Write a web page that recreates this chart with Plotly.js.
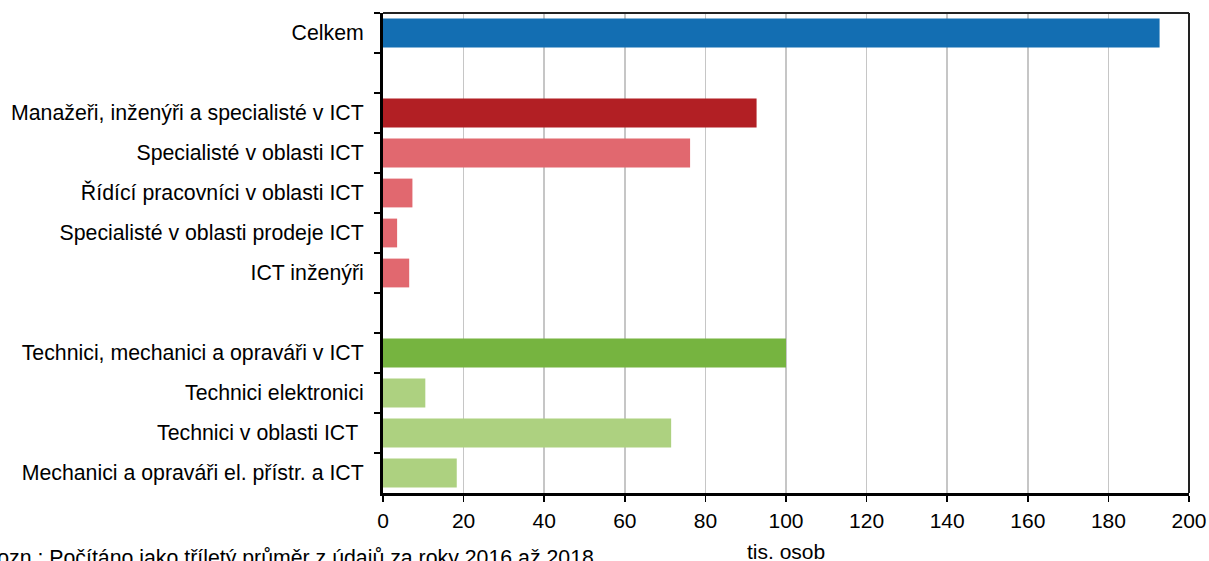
<!DOCTYPE html>
<html>
<head>
<meta charset="utf-8">
<script src="https://cdn.plot.ly/plotly-3.0.1.min.js"></script>
<style>
  html, body { margin: 0; padding: 0; background: #fff; }
  #chart { width: 1209px; height: 561px; }
</style>
</head>
<body>
<div id="chart"></div>
<script>
// Occupation groups (top to bottom); blank entries are spacer rows
const categories = [
  "Celkem",
  " ",
  "Manažeři, inženýři a specialisté v ICT",
  "Specialisté v oblasti ICT",
  "Řídící pracovníci v oblasti ICT",
  "Specialisté v oblasti prodeje ICT",
  "ICT inženýři",
  "  ",
  "Technici, mechanici a opraváři v ICT",
  "Technici elektronici",
  "Technici v oblasti ICT ",
  "Mechanici a opraváři el. přístr. a ICT"
];

// Employed persons, thousands
const values = [192.7, null, 92.7, 76.2, 7.3, 3.5, 6.5, null, 100.0, 10.5, 71.5, 18.3];

// Group of each row: total, ICT professionals, ICT technicians
const groups = ["total", "gap", "pro", "pro-sub", "pro-sub", "pro-sub", "pro-sub", "gap", "tech", "tech-sub", "tech-sub", "tech-sub"];

const xTickValues = [0, 20, 40, 60, 80, 100, 120, 140, 160, 180, 200];

const xTitle = "tis. osob";
const noteText = "Pozn.: Počítáno jako tříletý průměr z údajů za roky 2016 až 2018";

const palette = {
  "total": "#136eb2",
  "pro": "#b21f24",
  "pro-sub": "#e1686f",
  "tech": "#76b440",
  "tech-sub": "#add180",
  "gap": "rgba(0,0,0,0)"
};

const FONT = "Liberation Sans, Arial, sans-serif";

const trace = {
  type: "bar",
  orientation: "h",
  y: categories,
  x: values,
  marker: { color: groups.map(g => palette[g]), line: { width: 0 } },
  hoverinfo: "x+y"
};

const layout = {
  width: 1209,
  height: 561,
  margin: { l: 383, r: 20, t: 13, b: 68 },
  paper_bgcolor: "#ffffff",
  plot_bgcolor: "#ffffff",
  showlegend: false,
  bargap: 0.28,
  font: { family: FONT, size: 21, color: "#000" },
  xaxis: {
    range: [0, 200],
    tickmode: "array",
    tickvals: xTickValues,
    ticktext: xTickValues.map(String),
    showgrid: true,
    gridcolor: "#c6c6c6",
    gridwidth: 1.5,
    zeroline: false,
    showline: true,
    linecolor: "#000",
    linewidth: 3,
    ticks: "outside",
    ticklen: 6,
    tickwidth: 1.5,
    tickcolor: "#000",
    tickfont: { family: FONT, size: 21, color: "#000" },
    ticklabelstandoff: 1,
    fixedrange: true
  },
  yaxis: {
    type: "category",
    categoryorder: "array",
    categoryarray: categories,
    autorange: "reversed",
    tickson: "boundaries",
    showgrid: false,
    zeroline: false,
    showline: true,
    linecolor: "#000",
    linewidth: 3,
    ticks: "outside",
    ticklen: 6,
    tickwidth: 1.5,
    tickcolor: "#000",
    tickfont: { family: FONT, size: 21.3, color: "#000" },
    ticklabelstandoff: 12,
    fixedrange: true
  },
  shapes: [
    { type: "line", xref: "paper", yref: "paper", x0: 0, x1: 1, y0: 1, y1: 1,
      line: { color: "#222", width: 2 } },
    { type: "line", xref: "paper", yref: "paper", x0: 1, x1: 1, y0: 0, y1: 1,
      line: { color: "#222", width: 2 } }
  ],
  annotations: [
    { text: xTitle, xref: "paper", yref: "paper", x: 0.5, y: -0.121,
      xanchor: "center", yanchor: "middle", showarrow: false,
      font: { family: FONT, size: 21, color: "#000" } },
    { text: noteText, xref: "paper", yref: "paper", x: -0.499, y: -0.106,
      xanchor: "left", yanchor: "top", showarrow: false,
      font: { family: FONT, size: 21.3, color: "#000" } }
  ]
};

Plotly.newPlot("chart", [trace], layout, { displayModeBar: false, staticPlot: true });
</script>
</body>
</html>
